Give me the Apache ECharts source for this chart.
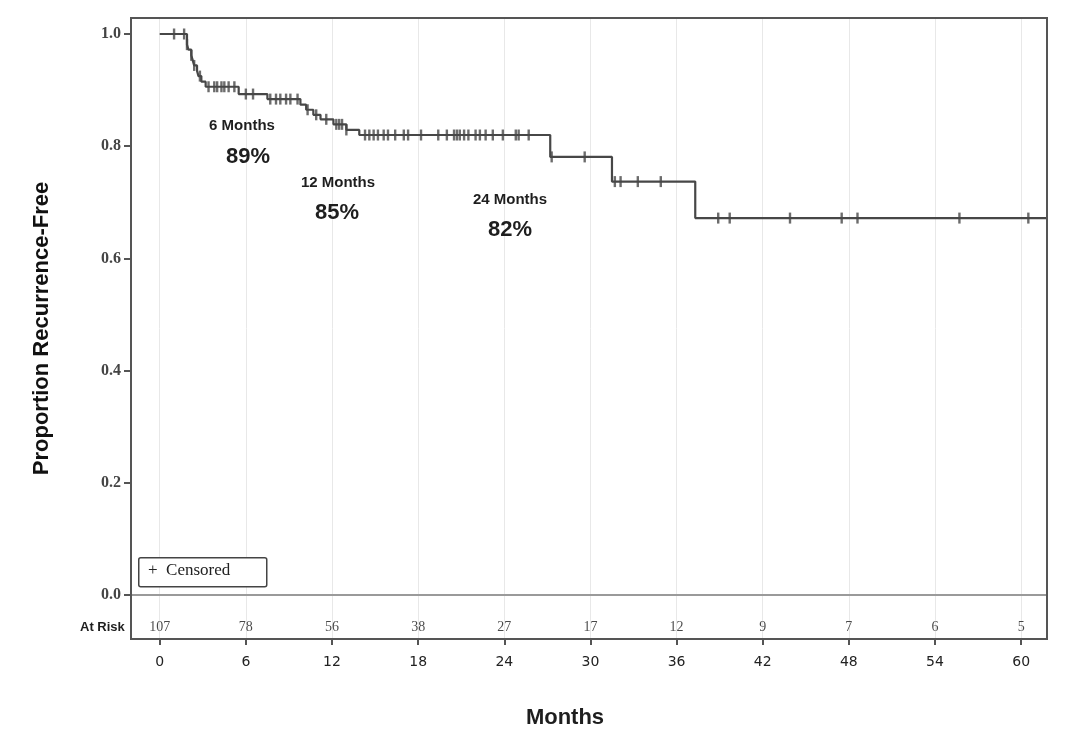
<!DOCTYPE html>
<html>
<head>
<meta charset="utf-8">
<script src="https://cdn.jsdelivr.net/npm/echarts@6/dist/echarts.min.js"></script>
<style>
html,body{margin:0;padding:0;background:#fff;}
#chart{width:1092px;height:756px;}
</style>
</head>
<body>
<div id="chart"></div>
<script>
// ---- data ----
const eventTimes = [0, 1.9, 2.0, 2.2, 2.3, 2.4, 2.6, 2.7, 2.9, 3.2, 5.5, 7.5, 9.8, 10.2, 10.7, 11.2, 12.1, 13.0, 13.9, 27.2, 31.5, 37.3];
const survival   = [1.0, 0.981, 0.972, 0.962, 0.953, 0.944, 0.934, 0.925, 0.915, 0.906, 0.893, 0.884, 0.874, 0.865, 0.856, 0.848, 0.839, 0.829, 0.82, 0.781, 0.737, 0.672];
const followUpEnd = 61.8;
const censoredTimes = [1.0, 1.7, 1.9, 2.2, 2.4, 2.8, 3.4, 3.8, 4.0, 4.3, 4.5, 4.8, 5.2, 6.0, 6.5, 7.7, 8.1, 8.4, 8.8, 9.1, 9.6,
  10.3, 10.9, 11.6, 12.3, 12.5, 12.7, 13.0, 14.3, 14.6, 14.9, 15.2, 15.6, 15.9, 16.4, 17.0, 17.3, 18.2, 19.4, 20.0, 20.5,
  20.7, 20.9, 21.2, 21.5, 22.0, 22.3, 22.7, 23.2, 23.9, 24.8, 25.0, 25.7, 27.3, 29.6, 31.7, 32.1, 33.3, 34.9, 38.9, 39.7,
  43.9, 47.5, 48.6, 55.7, 60.5];
const riskTimes = [0, 6, 12, 18, 24, 30, 36, 42, 48, 54, 60];
const atRisk = [107, 78, 56, 38, 27, 17, 12, 9, 7, 6, 5];
const yTicks = [0, 0.2, 0.4, 0.6, 0.8, 1.0];
const annotations = [
  {label: '6 Months', pct: '89%'},
  {label: '12 Months', pct: '85%'},
  {label: '24 Months', pct: '82%'}
];

// ---- build ----
function survAt(t) {
  let s = survival[0];
  for (let i = 0; i < eventTimes.length; i++) { if (eventTimes[i] <= t) s = survival[i]; }
  return s;
}
const curve = eventTimes.map((t, i) => [t, survival[i]]);
curve.push([followUpEnd, survival[survival.length - 1]]);
const censorData = censoredTimes.map(t => [t, survAt(t)]);
const RISK_ROW = -0.057;
const riskData = riskTimes.map((t, i) => ({value: [t, RISK_ROW], label: {formatter: String(atRisk[i])}}));

const DARK = '#474747';
const chart = echarts.init(document.getElementById('chart'), null, {renderer: 'canvas'});
const txt = (x, y, text, font) => ({type: 'text', x: x, y: y, z: 100, style: {text: text, font: font, fill: '#1e1e1e', align: 'center', verticalAlign: 'middle'}});
const option = {
  backgroundColor: '#fff',
  animation: false,
  grid: {left: 131, right: 45, top: 18, bottom: 117, show: true, borderColor: '#555', borderWidth: 2, backgroundColor: 'transparent', z: 10},
  xAxis: {
    type: 'value', min: -2, max: 61.8,
    axisLine: {show: false, onZero: false},
    axisTick: {show: true, customValues: riskTimes, length: 6, lineStyle: {color: '#555', width: 2}},
    axisLabel: {customValues: riskTimes, fontFamily: 'DejaVu Sans', fontSize: 14, color: '#222', margin: 16},
    splitLine: {show: false}
  },
  yAxis: {
    type: 'value', min: -0.078, max: 1.0285,
    name: 'Proportion Recurrence-Free', nameLocation: 'middle', nameGap: 78, nameRotate: 90,
    nameTextStyle: {fontFamily: 'Liberation Sans', fontWeight: 'bold', fontSize: 22, color: '#111'},
    axisLine: {show: false, onZero: false},
    axisTick: {show: true, customValues: yTicks, length: 7, lineStyle: {color: '#555', width: 2}},
    axisLabel: {customValues: yTicks, formatter: v => v.toFixed(1), fontFamily: 'Liberation Serif', fontWeight: 'bold', fontSize: 16, color: '#444', margin: 10},
    splitLine: {show: false}
  },
  series: [
    {
      type: 'line', data: [], silent: true, z: 1,
      markLine: {
        symbol: 'none', silent: true, label: {show: false}, z: 1,
        lineStyle: {color: '#e8e8e8', width: 1, type: 'solid'},
        data: riskTimes.map(t => ({xAxis: t}))
      }
    },
    {
      type: 'line', data: [], silent: true, z: 2,
      markLine: {
        symbol: 'none', silent: true, label: {show: false}, z: 2,
        lineStyle: {color: '#9a9a9a', width: 2, type: 'solid'},
        data: [{yAxis: 0}]
      }
    },
    {
      type: 'line', step: 'end', data: curve, showSymbol: false, symbol: 'none',
      lineStyle: {color: DARK, width: 2.2}, z: 5
    },
    {
      type: 'scatter', data: censorData, symbol: 'rect', symbolSize: [2.4, 11],
      itemStyle: {color: DARK}, z: 6
    },
    {
      type: 'scatter', data: riskData, symbolSize: 0, z: 7,
      label: {show: true, position: 'inside', fontFamily: 'Liberation Serif', fontSize: 14, color: '#1a1a1a'}
    }
  ],
  graphic: [
    {type: 'text', left: 80, top: 621, z: 100, style: {text: 'At Risk', font: 'bold 13px "Liberation Sans"', fill: '#1e1e1e'}},
    txt(565, 718, 'Months', 'bold 22px "Liberation Sans"'),
    txt(242, 126, annotations[0].label, 'bold 15px "Liberation Sans"'),
    txt(248, 157, annotations[0].pct, 'bold 22px "Liberation Sans"'),
    txt(338, 183, annotations[1].label, 'bold 15px "Liberation Sans"'),
    txt(337, 213, annotations[1].pct, 'bold 22px "Liberation Sans"'),
    txt(510, 200, annotations[2].label, 'bold 15px "Liberation Sans"'),
    txt(510, 230, annotations[2].pct, 'bold 22px "Liberation Sans"'),
    {type: 'rect', left: 138, top: 557, z: 100, shape: {x: 0, y: 0, width: 128, height: 29, r: 2}, style: {fill: '#fff', stroke: '#444', lineWidth: 1.5}},
    {type: 'text', left: 148, top: 562, z: 101, style: {text: '+  Censored', font: '17px "Liberation Serif"', fill: '#222'}}
  ]
};
chart.setOption(option);
</script>
</body>
</html>
